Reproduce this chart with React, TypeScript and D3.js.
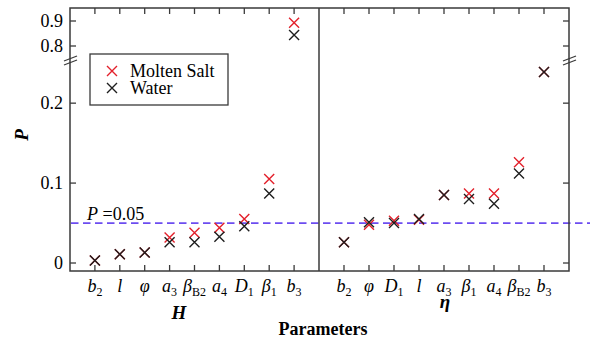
import React, { useEffect } from "react";
import * as d3 from "d3";

// categories (order along each panel)
const catsH = ["b2", "l", "phi", "a3", "betaB2", "a4", "D1", "beta1", "b3"];
const catsEta = ["b2", "phi", "D1", "l", "a3", "beta1", "a4", "betaB2", "b3"];

// P values
const moltenH = [0.003, 0.011, 0.013, 0.032, 0.038, 0.044, 0.055, 0.105, 0.893];
const waterH = [0.003, 0.011, 0.013, 0.026, 0.026, 0.033, 0.046, 0.087, 0.844];
const moltenEta = [0.026, 0.048, 0.053, 0.054, 0.085, 0.087, 0.087, 0.126, 0.239];
const waterEta = [0.026, 0.051, 0.05, 0.055, 0.085, 0.08, 0.074, 0.112, 0.239];

const yTicks = [0, 0.1, 0.2, 0.8, 0.9];
const threshold = 0.05;

const labels: Record<string, { main: string; sub: string }> = {
  b2: { main: "b", sub: "2" },
  l: { main: "l", sub: "" },
  phi: { main: "φ", sub: "" },
  a3: { main: "a", sub: "3" },
  betaB2: { main: "β", sub: "B2" },
  a4: { main: "a", sub: "4" },
  D1: { main: "D", sub: "1" },
  beta1: { main: "β", sub: "1" },
  b3: { main: "b", sub: "3" },
};

const RED = "#e3202b";
const BLACK = "#1e1e1e";
const AXIS = "#3a3a3a";
const DASH = "#6c4cf0";
const FONT = "Liberation Serif";

const left = 70, mid = 319, right = 569, top = 8, bottom = 271, brk = 60;

function Cross({ x, y, color }: { x: number; y: number; color: string }) {
  const s = 5;
  return (
    <path
      d={`M${x - s},${y - s}L${x + s},${y + s}M${x - s},${y + s}L${x + s},${y - s}`}
      stroke={color}
      strokeWidth={1.4}
      fill="none"
    />
  );
}

function CatLabel({ x, k }: { x: number; k: string }) {
  const l = labels[k];
  return (
    <text x={x} y={292} textAnchor="middle" fontFamily={FONT} fontSize={18}>
      <tspan fontStyle="italic">{l.main}</tspan>
      {l.sub && (
        <tspan fontSize={12} dy={4}>
          {l.sub}
        </tspan>
      )}
    </text>
  );
}

export default function App() {
  useEffect(() => {
    document.body.style.margin = "0";
  }, []);

  // broken y axis: lower part 0..0.25, upper part 0.75..0.95
  const y = d3
    .scaleLinear()
    .domain([-0.01, 0.254, 0.744, 0.952])
    .range([bottom, brk, brk, top]);

  const xH = d3.scalePoint<string>().domain(catsH).range([left, mid]).padding(1);
  const xE = d3.scalePoint<string>().domain(catsEta).range([mid, right]).padding(1);

  const panels = [
    { x: xH, cats: catsH, molten: moltenH, water: waterH },
    { x: xE, cats: catsEta, molten: moltenEta, water: waterEta },
  ];

  return (
    <svg width={595} height={344} style={{ display: "block", background: "#fff" }}>
      {/* threshold line */}
      <line
        x1={left + 1}
        x2={590}
        y1={y(threshold)}
        y2={y(threshold)}
        stroke={DASH}
        strokeWidth={1.8}
        strokeDasharray="7.5,4.5"
      />
      <text x={87} y={220} fontFamily={FONT} fontSize={18}>
        <tspan fontStyle="italic">P</tspan> =0.05
      </text>

      {/* frame */}
      <rect
        x={left}
        y={top}
        width={right - left}
        height={bottom - top}
        fill="none"
        stroke={AXIS}
        strokeWidth={1.5}
      />
      <line x1={mid} x2={mid} y1={top} y2={bottom} stroke={AXIS} strokeWidth={1.5} />

      {/* y ticks */}
      {yTicks.map((t) => (
        <g key={t}>
          <line x1={left} x2={left + 6} y1={y(t)} y2={y(t)} stroke={AXIS} strokeWidth={1.3} />
          <line x1={right} x2={right - 6} y1={y(t)} y2={y(t)} stroke={AXIS} strokeWidth={1.3} />
          <text x={63} y={y(t) + 6} textAnchor="end" fontFamily={FONT} fontSize={18}>
            {t === 0 ? "0" : d3.format(".1f")(t)}
          </text>
        </g>
      ))}

      {/* axis break marks */}
      {[left, right].map((ax) => (
        <g key={ax} stroke={AXIS} strokeWidth={1.3}>
          <line x1={ax - 6} y1={brk + 1} x2={ax + 7} y2={brk - 4} />
          <line x1={ax - 6} y1={brk + 5} x2={ax + 7} y2={brk} />
        </g>
      ))}

      {/* category ticks, labels and markers */}
      {panels.map((p, pi) => (
        <g key={pi}>
          {p.cats.map((c, i) => {
            const cx = p.x(c)!;
            return (
              <g key={c}>
                <line x1={cx} x2={cx} y1={top} y2={top + 6} stroke={AXIS} strokeWidth={1.3} />
                <line x1={cx} x2={cx} y1={bottom} y2={bottom - 6} stroke={AXIS} strokeWidth={1.3} />
                <CatLabel x={cx} k={c} />
                <Cross x={cx} y={y(p.molten[i])} color={RED} />
                <Cross x={cx} y={y(p.water[i])} color={BLACK} />
              </g>
            );
          })}
        </g>
      ))}

      {/* axis titles */}
      <text x={179} y={319} textAnchor="middle" fontFamily={FONT} fontSize={19} fontWeight="bold" fontStyle="italic">
        H
      </text>
      <text x={445} y={308} textAnchor="middle" fontFamily={FONT} fontSize={19} fontWeight="bold" fontStyle="italic">
        η
      </text>
      <text x={323} y={335} textAnchor="middle" fontFamily={FONT} fontSize={18} fontWeight="bold">
        Parameters
      </text>
      <text
        transform="translate(28,135) rotate(-90)"
        textAnchor="middle"
        fontFamily={FONT}
        fontSize={19}
        fontWeight="bold"
        fontStyle="italic"
      >
        P
      </text>

      {/* legend */}
      <rect x={90} y={54} width={138} height={51} fill="#fff" stroke={AXIS} strokeWidth={1.3} />
      <Cross x={112} y={71} color={RED} />
      <text x={130} y={77} fontFamily={FONT} fontSize={18}>
        Molten Salt
      </text>
      <Cross x={112} y={88} color={BLACK} />
      <text x={130} y={94} fontFamily={FONT} fontSize={18}>
        Water
      </text>
    </svg>
  );
}
